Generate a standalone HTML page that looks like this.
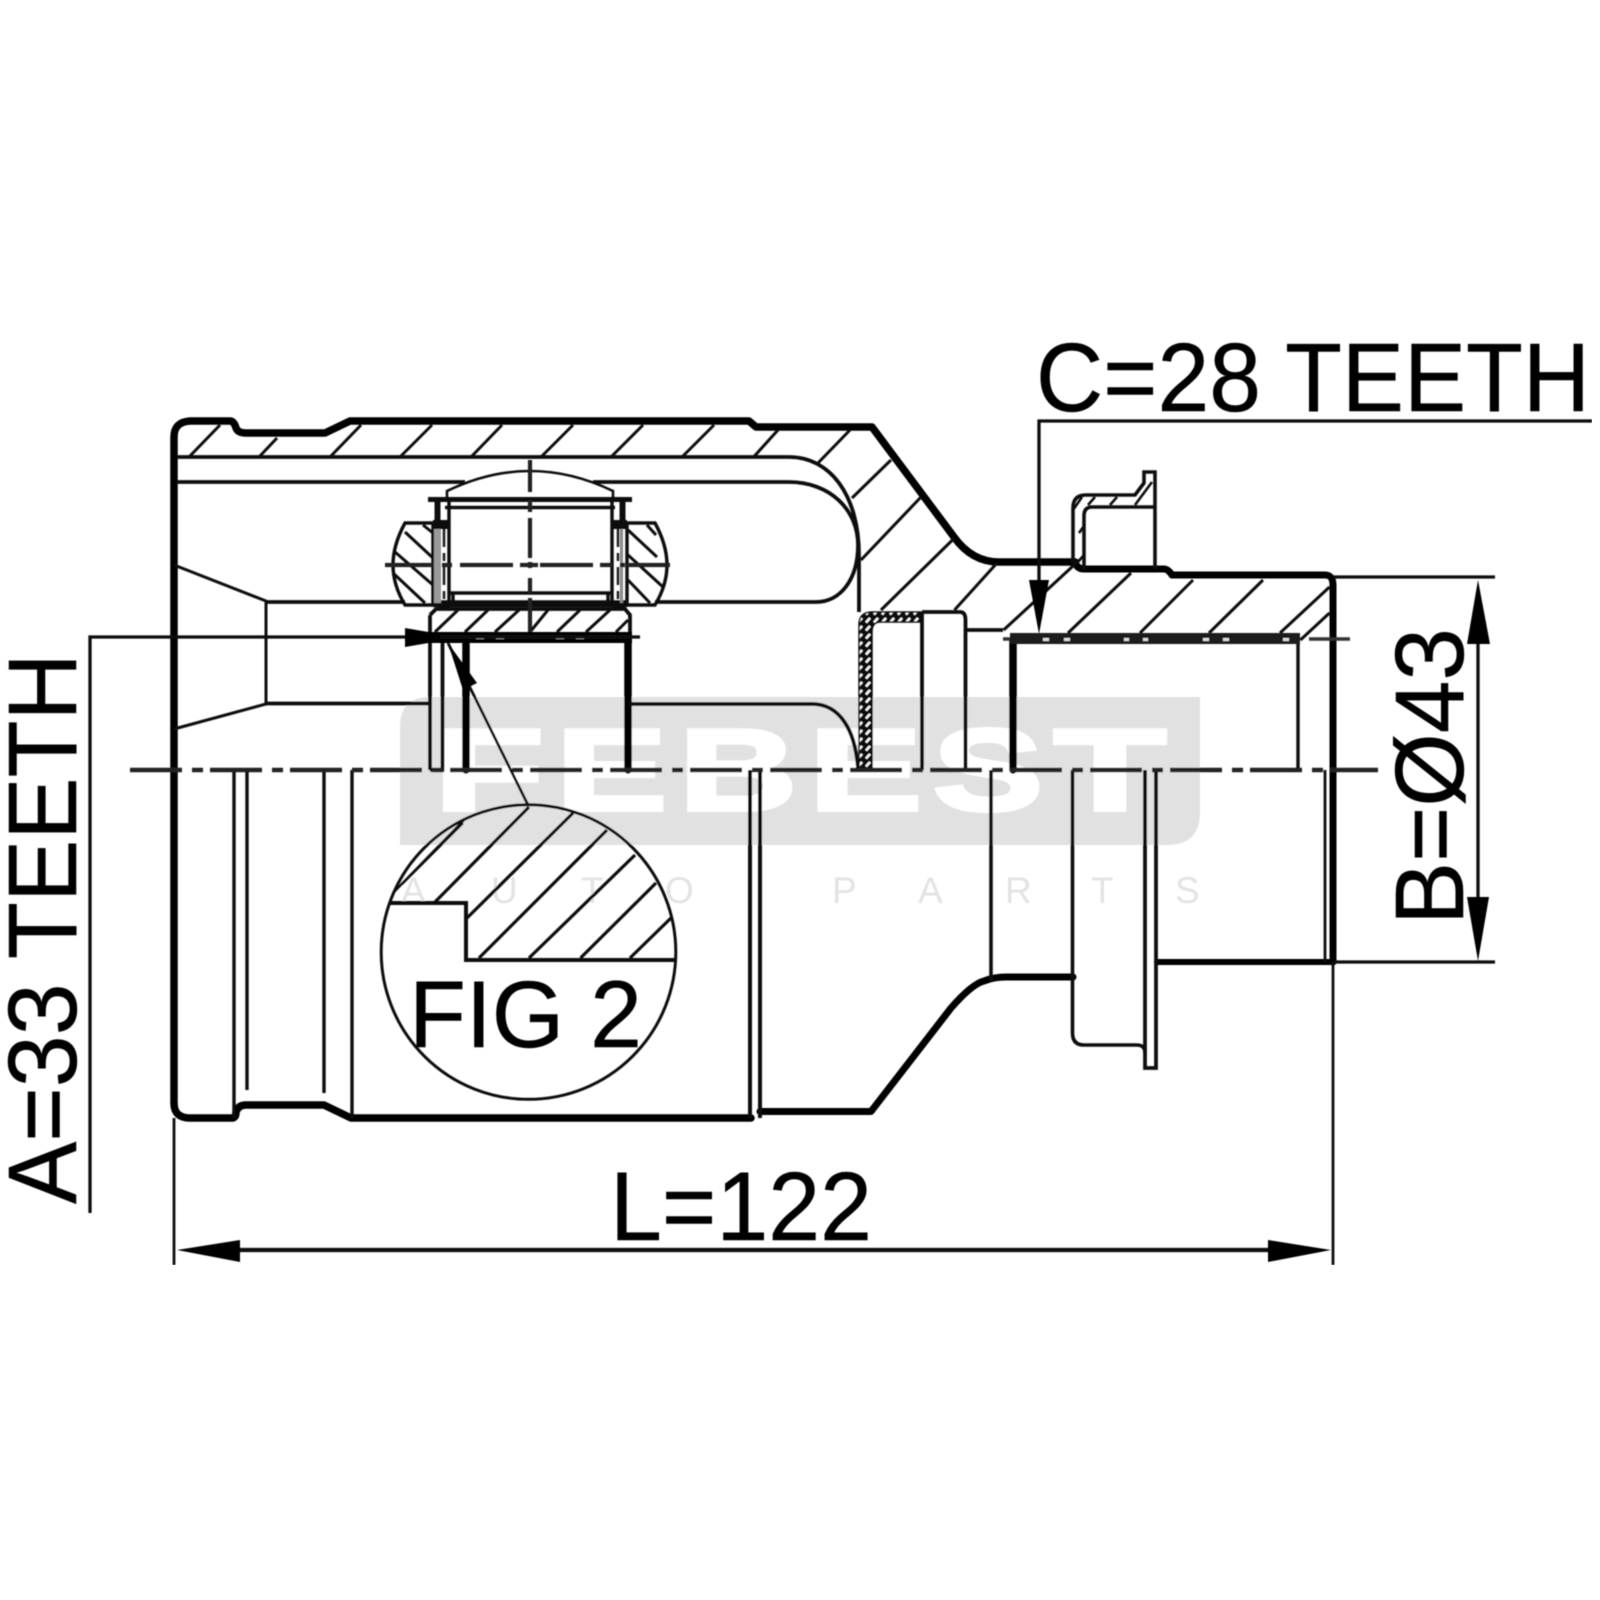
<!DOCTYPE html>
<html><head><meta charset="utf-8"><style>html,body{margin:0;padding:0;background:#fff}svg{display:block}</style></head>
<body>
<svg xmlns="http://www.w3.org/2000/svg" width="1600" height="1600" viewBox="0 0 1600 1600" font-family="'Liberation Sans',Arial,sans-serif">
<defs>
<pattern id="h" patternUnits="userSpaceOnUse" width="8" height="8"><rect width="8" height="8" fill="#111"/><path d="M2 6.5L6 2" stroke="#fff" stroke-width="2.4"/></pattern>
<filter id="b" x="0" y="0" width="100%" height="100%"><feGaussianBlur stdDeviation="0.6"/></filter>
</defs>
<rect width="1600" height="1600" fill="#fff"/>
<g filter="url(#b)">
<!-- watermark -->
<path d="M430 697H1200V812Q1200 845 1167 845H400V727Q400 697 430 697Z" fill="#e1e1e1"/>
<g fill="#fff" stroke="#fff" stroke-width="4" font-weight="700" font-size="116">
<text x="434" y="810" textLength="110" lengthAdjust="spacingAndGlyphs">F</text>
<text x="556" y="810" textLength="111" lengthAdjust="spacingAndGlyphs">E</text>
<text x="679" y="810" textLength="118" lengthAdjust="spacingAndGlyphs">B</text>
<text x="809" y="810" textLength="113" lengthAdjust="spacingAndGlyphs">E</text>
<text x="933" y="810" textLength="110" lengthAdjust="spacingAndGlyphs">S</text>
<text x="1054" y="810" textLength="112" lengthAdjust="spacingAndGlyphs">T</text>
</g>
<g fill="#e3e3e3" font-size="37">
<text x="401" y="903">A</text><text x="491" y="903">U</text><text x="581" y="903">T</text><text x="665" y="903">O</text>
<text x="832" y="903">P</text><text x="918" y="903">A</text><text x="1005" y="903">R</text><text x="1091" y="903">T</text><text x="1175" y="903">S</text>
</g>

<!-- thick outlines -->
<g fill="none" stroke="#000" stroke-linejoin="round" stroke-linecap="round">
<path stroke-width="7.5" d="M174 1103V437Q174 422 190 421H230Q234 421 236 428Q238 433 246 433H325L350 421H749L756 427H872L954 537Q972 562 999 562H1075"/>
<path stroke-width="7" d="M1075 562Q1077 569 1084 569H1164Q1168 569 1172 575H1325Q1333 575 1333 585V962"/>
<path stroke-width="7.5" d="M174 1103Q174 1118 190 1118H232Q236 1118 236 1112Q238 1105 246 1105H324L351 1118H751"/>
<path stroke-width="7" d="M760 1111.5H871L951 1008Q972 984 984 981Q994 977 1006 977H1073"/>
<path stroke-width="6" d="M1157 962H1333"/>
<path stroke-width="7.5" d="M466 644V770M628 640V770M1013 640V770"/>
</g>

<!-- medium lines -->
<g fill="none" stroke="#111" stroke-width="3.8" stroke-linecap="butt">
<path d="M177 457H789C830 457 859 495 859 555V612"/>
<path d="M177 482H465M593 482H789C830 482 858 510 858 545C858 580 840 602 816 602H655"/>
<path d="M266 602H405"/>
<path d="M174 565L266 601V704L174 729" stroke-width="3"/>
<path d="M266 703.5H429M630 704H812C840 704 855 730 858 768"/>
<path d="M430 615L436 609H625L630 615V632M430 615V770M442.5 643V770H430"/>
<path d="M922 612V770M922 612H960Q965.5 612 965.5 620V770M965.5 630H1003"/>
<path d="M1298 643V770" stroke-width="3.4"/>
<!-- lower verticals -->
<path d="M234 770V1118M247 770V1090M324 770V1093M352 770V1118" stroke-width="3.4"/>
<path d="M750 770V1118M760 770V1118" stroke-width="4"/>
<path d="M991 770V981M1072.5 770V1033Q1072.5 1045 1084 1045H1137Q1145 1045 1145 1053" stroke-width="3.6"/>
<path d="M1145 770V1068H1156V770" stroke-width="3.8"/>
<path d="M1325 770V962" stroke-width="2.8"/>
</g>

<!-- cup flange -->
<g fill="none" stroke="#111" stroke-width="3.6">
<path d="M1073 563V508Q1073 495 1086 495H1135L1144 483V472H1155V569"/>
<path d="M1084 569V516Q1084 507 1092 507H1155"/>
<path stroke-width="2.6" d="M1073 510L1082 497M1079 533L1084 526M1077 563L1084 555M1110 505L1117 497M1135 505L1152 482M1088 505L1095 497"/>
</g>

<!-- hatched thin wall -->
<path d="M859 770V625Q859 612 872 612H921V622H880Q872 622 872 632V770Z" fill="url(#h)" stroke="#111" stroke-width="1.5"/>

<!-- hatching -->
<g fill="none" stroke="#111" stroke-width="3">
<path d="M189 457L220 425M259 457L277 438M330 457L361 425M400 457L432 425M471 457L502 425M541 457L573 425M611 457L643 425M682 457L714 425M753.6 457L778 430"/>
<path d="M818 463L850 430M852 498L891 460M861 560L921 497M881 610L954.5 538M954.5 610L997 563M1003.6 630L1079.5 560M1068 633L1131 573M1140 633L1193 580M1209 633L1263 580M1280 633L1329.5 587M1300.4 640L1329.5 613"/>
<path d="M435 632L458 610M465 632L488 610M495 632L519 610M530 632L548 610M557 632L580 610M586 632L610 610M616 632L628 620"/>
<path d="M405 532L433 558M395 552L433 585M393 573L425 603M423 525L433 533M628 530L657 557M628 555L663 587M628 580L650 603M647 525L656 535"/>
</g>

<!-- trunnion / balls -->
<g fill="none" stroke="#111" stroke-width="3.4">
<path d="M433 523H405Q393 545 393 565Q393 585 405 605H433"/>
<path d="M627 523H655Q667 545 667 565Q667 585 655 605H627"/>
<path d="M428 499.5H632" stroke-width="5"/>
<path d="M445 507.5H615M449 593H612M433 602H627M433 605.5H627"/>
<path d="M449 500V605M612 500V605M453 593V603M608 593V603M433 523V605M627 523V605"/>
<path d="M447 499V491Q530 451 613 491V499" stroke-width="2.6"/>
<path d="M437.5 499V523M622.5 499V523" stroke-width="6"/>
</g>
<rect x="433" y="520" width="15" height="9" fill="#111"/>
<rect x="612" y="520" width="15" height="9" fill="#111"/>
<rect x="434" y="529" width="7" height="74" fill="#999"/>
<rect x="620" y="529" width="3" height="74" fill="#888"/>
<rect x="438" y="605" width="12" height="5" fill="#111"/>
<rect x="612" y="605" width="13" height="5" fill="#111"/>
<path d="M444 529V603M618 529V603" stroke="#222" stroke-width="2.6" stroke-dasharray="18 6 8 6" fill="none"/>

<!-- local centre lines -->
<path d="M385 565H433M442 565H452M460 565H513M520 565H538M540 565H593M600 565H612M620 565H625M627 565H670" stroke="#222" stroke-width="4.2" fill="none"/>
<path d="M530 460V492M530 500V512M530 518V558M530 562V568M530 578V593M530 598V632" stroke="#222" stroke-width="4.2" fill="none"/>

<!-- tooth bands -->
<rect x="430" y="632" width="202" height="11" fill="#050505"/>
<rect x="1010" y="633" width="290" height="11" fill="#1c1c1c"/>
<g fill="#ddd">
<rect x="476" y="636" width="8" height="3"/><rect x="496" y="636" width="8" height="3"/><rect x="556" y="636" width="8" height="3"/><rect x="576" y="636" width="8" height="3"/>
<rect x="1043" y="638" width="6" height="3"/><rect x="1064" y="638" width="6" height="3"/><rect x="1124" y="638" width="5" height="3"/><rect x="1143" y="638" width="5" height="3"/><rect x="1203" y="638" width="6" height="3"/><rect x="1223" y="638" width="6" height="3"/><rect x="1283" y="638" width="6" height="3"/>
</g>
<path d="M1003 639H1010M1309 639H1350" stroke="#333" stroke-width="3.5"/>

<!-- main centre line -->
<path d="M130 770H1378" stroke="#222" stroke-width="4.4" stroke-dasharray="52 10 11 7" fill="none"/>

<!-- FIG 2 -->
<circle cx="528.5" cy="952" r="147.3" fill="none" stroke="#111" stroke-width="3"/>
<g fill="none" stroke="#111" stroke-width="3.2">
<path d="M390 903H466V960H676" stroke-width="4"/>
<path d="M435 902L529 807M466 919L573 813M479 958L607 830M529 958L635 855M580.5 958L656 883M630 958L671 918"/>
<path d="M393 893L464 820M402 884L463 823" stroke-width="2.4"/>
<path d="M448 643L528 805" stroke-width="2.8"/>
</g>
<path d="M448 643L477 683L463 690Z" fill="#000"/>
<text x="409" y="1047" font-size="95" fill="#000" stroke="#000" stroke-width=".5" textLength="233" lengthAdjust="spacingAndGlyphs">FIG 2</text>

<!-- dimensions -->
<g fill="none" stroke="#111" stroke-width="3.3">
<path d="M90 1213V637H640"/>
<path d="M1039 580V421H1592"/>
<path d="M1333 577H1495M1333 962H1495M1478 640V900"/>
<path d="M174 1118V1265M1333 962V1265" stroke-width="2.8"/>
<path d="M238 1250H1268" stroke-width="4.2"/>
</g>
<path d="M405 628L440 634V641L405 647Z" fill="#000"/>
<path d="M1029 580H1049L1039 634Z" fill="#000"/>
<path d="M1478 580L1490 644H1467Z" fill="#000"/>
<path d="M1478 961L1467 897H1489Z" fill="#000"/>
<path d="M177 1250L240 1240V1262Z" fill="#000"/>
<path d="M1331 1250L1268 1240V1262Z" fill="#000"/>

<!-- labels -->
<g fill="#000" stroke="#000" stroke-width=".5" font-size="97">
<text x="1036" y="411" textLength="554" lengthAdjust="spacingAndGlyphs">C=28 TEETH</text>
<text x="610" y="1240" textLength="262" lengthAdjust="spacingAndGlyphs">L=122</text>
<text transform="translate(76 1204) rotate(-90)" textLength="551" lengthAdjust="spacingAndGlyphs">A=33 TEETH</text>
<text transform="translate(1463 925) rotate(-90)" textLength="297" lengthAdjust="spacingAndGlyphs">B=Ø43</text>
</g>
</g>
</svg>
</body></html>
